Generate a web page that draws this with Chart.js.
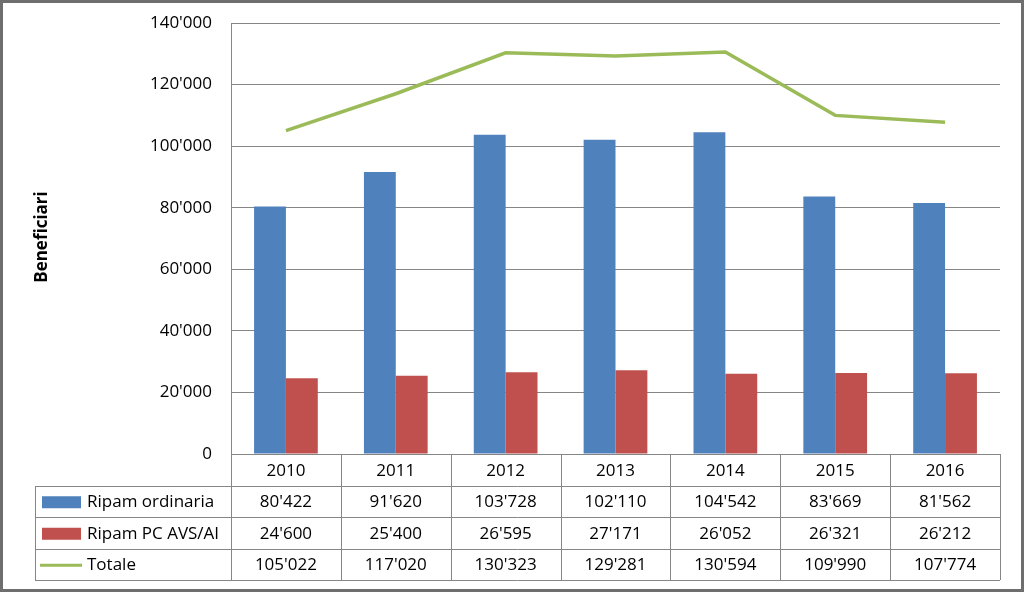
<!DOCTYPE html>
<html>
<head>
<meta charset="utf-8">
<script src="https://cdn.jsdelivr.net/npm/chart.js@4"></script>
<style>
html,body{margin:0;padding:0;background:#fff;}
#wrap{width:1024px;height:592px;position:relative;}
</style>
</head>
<body>
<div id="wrap"><canvas id="c" width="1024" height="592"></canvas></div>
<script>
const categories = ['2010','2011','2012','2013','2014','2015','2016'];
const ripamOrdinaria = [80422, 91620, 103728, 102110, 104542, 83669, 81562];
const ripamPC = [24600, 25400, 26595, 27171, 26052, 26321, 26212];
const totale = [105022, 117020, 130323, 129281, 130594, 109990, 107774];
const seriesNames = ['Ripam ordinaria', 'Ripam PC AVS/AI', 'Totale'];
const yTicks = [0, 20000, 40000, 60000, 80000, 100000, 120000, 140000];
const yTitle = 'Beneficiari';

const BLUE = '#4F81BD', RED = '#C0504D', GREEN = '#9BBB59', GRID = '#868686';
const FONT = '"Open Sans", Lato, sans-serif';

function fmt(v){
  return String(v).replace(/\B(?=(\d{3})+(?!\d))/g, "'");
}

const tablePlugin = {
  id: 'tablePlugin',
  afterDraw(chart){
    const ctx = chart.ctx;
    const ca = chart.chartArea;
    const xs = chart.scales.x;
    const left = ca.left, right = ca.right;
    const n = categories.length;
    const colW = (right - left) / n;
    const rowTop = ca.bottom;
    const rowH = 31.5;
    const tableLeft = 35;
    ctx.save();
    ctx.strokeStyle = GRID;
    ctx.lineWidth = 1;
    const yLines = [rowTop, rowTop + rowH, rowTop + 2*rowH, rowTop + 3*rowH, rowTop + 4*rowH];
    yLines.forEach((y, i) => {
      ctx.beginPath();
      const x0 = i === 0 ? left : tableLeft;
      ctx.moveTo(x0, Math.round(y) + 0.5);
      ctx.lineTo(right, Math.round(y) + 0.5);
      ctx.stroke();
    });
    for (let i = 0; i <= n; i++) {
      const x = Math.round(left + i * colW) + 0.5;
      ctx.beginPath();
      ctx.moveTo(x, rowTop);
      ctx.lineTo(x, rowTop + 4*rowH);
      ctx.stroke();
    }
    ctx.beginPath();
    ctx.moveTo(tableLeft + 0.5, Math.round(rowTop + rowH));
    ctx.lineTo(tableLeft + 0.5, Math.round(rowTop + 4*rowH));
    ctx.stroke();

    ctx.fillStyle = '#000';
    ctx.font = '17px ' + FONT;
    ctx.textBaseline = 'middle';
    ctx.textAlign = 'center';
    categories.forEach((c, i) => {
      const x = xs.getPixelForValue(i);
      ctx.fillText(c, x, rowTop + rowH/2 + 1);
      ctx.fillText(fmt(ripamOrdinaria[i]), x, rowTop + rowH*1.5 + 1);
      ctx.fillText(fmt(ripamPC[i]), x, rowTop + rowH*2.5 + 1);
      ctx.fillText(fmt(totale[i]), x, rowTop + rowH*3.5 + 1);
    });
    ctx.textAlign = 'left';
    ctx.fillStyle = BLUE;
    ctx.fillRect(42, rowTop + rowH*1.5 - 5, 39, 12);
    ctx.fillStyle = RED;
    ctx.fillRect(42, rowTop + rowH*2.5 - 5, 39, 12);
    ctx.strokeStyle = GREEN;
    ctx.lineWidth = 3;
    ctx.beginPath();
    ctx.moveTo(40, rowTop + rowH*3.5 + 1);
    ctx.lineTo(82, rowTop + rowH*3.5 + 1);
    ctx.stroke();
    ctx.fillStyle = '#000';
    ctx.fillText(seriesNames[0], 87, rowTop + rowH*1.5 + 1);
    ctx.fillText(seriesNames[1], 87, rowTop + rowH*2.5 + 1);
    ctx.fillText(seriesNames[2], 87, rowTop + rowH*3.5 + 1);

    ctx.save();
    ctx.translate(42, 237);
    ctx.rotate(-Math.PI / 2);
    ctx.font = 'bold 17px ' + FONT;
    ctx.textAlign = 'center';
    ctx.textBaseline = 'middle';
    ctx.fillText(yTitle, 0, 0);
    ctx.restore();

    ctx.strokeStyle = '#6e6e6e';
    ctx.lineWidth = 3;
    ctx.strokeRect(1.5, 1.5, chart.width - 3, chart.height - 3);
    ctx.restore();
  }
};

new Chart(document.getElementById('c'), {
  data: {
    labels: categories,
    datasets: [
      { type: 'line', label: seriesNames[2], data: totale, borderColor: GREEN, borderWidth: 3.5,
        pointRadius: 0, fill: false, tension: 0, order: 0 },
      { type: 'bar', label: seriesNames[0], data: ripamOrdinaria, backgroundColor: BLUE,
        categoryPercentage: 0.58, barPercentage: 1, order: 1 },
      { type: 'bar', label: seriesNames[1], data: ripamPC, backgroundColor: RED,
        categoryPercentage: 0.58, barPercentage: 1, order: 1 }
    ]
  },
  options: {
    responsive: false,
    animation: false,
    layout: { padding: { left: 0, top: 23, right: 24, bottom: 592 - 454 } },
    plugins: { legend: { display: false }, tooltip: { enabled: false } },
    scales: {
      x: { display: false, offset: true },
      y: {
        min: 0, max: 140000,
        afterBuildTicks(scale){ scale.ticks = yTicks.map(v => ({ value: v })); },
        afterFit(scale){ scale.width = 231; scale.paddingTop = 0; scale.paddingBottom = 0; },
        ticks: { callback: v => fmt(v), color: '#000', font: { size: 17, family: FONT }, padding: 19 },
        grid: { color: GRID, drawTicks: false, lineWidth: 1 },
        border: { display: true, color: GRID }
      }
    }
  },
  plugins: [tablePlugin]
});
</script>
</body>
</html>
